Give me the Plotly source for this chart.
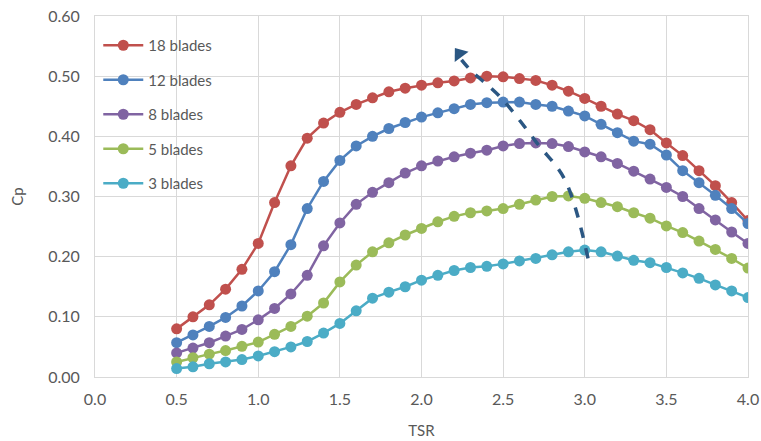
import plotly.graph_objects as go

tsr = [round(0.5 + 0.1 * i, 1) for i in range(36)]

cp_18 = [0.080, 0.100, 0.120, 0.146, 0.179, 0.222, 0.290, 0.351, 0.397, 0.422,
         0.440, 0.453, 0.464, 0.474, 0.480, 0.485, 0.489, 0.492, 0.497, 0.500,
         0.499, 0.496, 0.493, 0.485, 0.475, 0.463, 0.450, 0.437, 0.426, 0.411,
         0.389, 0.368, 0.343, 0.318, 0.290, 0.260]
cp_12 = [0.057, 0.070, 0.084, 0.099, 0.118, 0.143, 0.175, 0.220, 0.280, 0.325,
         0.360, 0.384, 0.400, 0.413, 0.423, 0.432, 0.439, 0.446, 0.453, 0.456,
         0.457, 0.457, 0.453, 0.450, 0.442, 0.434, 0.420, 0.406, 0.392, 0.387,
         0.369, 0.343, 0.323, 0.302, 0.280, 0.255]
cp_8 = [0.040, 0.048, 0.057, 0.068, 0.079, 0.095, 0.114, 0.138, 0.169, 0.218,
        0.256, 0.287, 0.307, 0.323, 0.339, 0.351, 0.359, 0.366, 0.372, 0.377,
        0.384, 0.388, 0.389, 0.388, 0.383, 0.374, 0.366, 0.355, 0.342, 0.329,
        0.315, 0.300, 0.280, 0.261, 0.241, 0.222]
cp_5 = [0.025, 0.032, 0.038, 0.044, 0.051, 0.058, 0.071, 0.084, 0.101, 0.123,
        0.158, 0.186, 0.208, 0.223, 0.236, 0.247, 0.258, 0.267, 0.273, 0.276,
        0.280, 0.287, 0.294, 0.300, 0.301, 0.297, 0.290, 0.283, 0.273, 0.264,
        0.251, 0.240, 0.226, 0.212, 0.197, 0.181]
cp_3 = [0.014, 0.017, 0.022, 0.025, 0.029, 0.035, 0.042, 0.050, 0.059, 0.073,
        0.089, 0.110, 0.131, 0.141, 0.150, 0.161, 0.169, 0.177, 0.182, 0.184,
        0.188, 0.193, 0.197, 0.203, 0.208, 0.211, 0.208, 0.201, 0.194, 0.190,
        0.182, 0.173, 0.164, 0.153, 0.143, 0.132]

series_names = ["18 blades", "12 blades", "8 blades", "5 blades", "3 blades"]
series_values = [cp_18, cp_12, cp_8, cp_5, cp_3]
series_colors = ["#C0504D", "#4F81BD", "#8064A2", "#9BBB59", "#4BACC6"]

# trend arrow path (TSR, Cp) and arrowhead position
arrow_x = [3.02, 2.88, 2.71, 2.48, 2.30, 2.245]
arrow_y = [0.197, 0.327, 0.388, 0.466, 0.510, 0.527]
head_x = [2.232]
head_y = [0.537]

x_ticks = [0.0, 0.5, 1.0, 1.5, 2.0, 2.5, 3.0, 3.5, 4.0]
y_ticks = [0.0, 0.1, 0.2, 0.3, 0.4, 0.5, 0.6]

FONT = "Lato"
GRID = "#D9D9D9"
TXT = "#595959"
ARROW = "#2B5783"

fig = go.Figure()
for i, (name, vals, col) in enumerate(zip(series_names, series_values, series_colors)):
    fig.add_trace(go.Scatter(
        x=tsr, y=vals, name=name, mode="lines+markers",
        line=dict(color=col, width=2.5),
        marker=dict(color=col, size=11),
        legendgroup="g%d" % i,
    ))

fig.add_trace(go.Scatter(
    x=arrow_x, y=arrow_y, mode="lines", showlegend=False, hoverinfo="skip",
    line=dict(color=ARROW, width=3.5, dash="dash", shape="spline"),
))
fig.add_trace(go.Scatter(
    x=head_x, y=head_y, mode="markers", showlegend=False, hoverinfo="skip",
    marker=dict(symbol="triangle-up", size=15, color=ARROW, angle=-37),
))

fig.update_layout(
    width=761, height=441,
    margin=dict(l=95, r=13, t=16, b=64),
    paper_bgcolor="white", plot_bgcolor="white",
    font=dict(family=FONT, size=15, color=TXT),
    showlegend=True,
    legend=dict(
        x=0.005, y=0.964, xanchor="left", yanchor="top",
        bgcolor="rgba(0,0,0,0)", font=dict(size=15, color=TXT),
        traceorder="grouped", tracegroupgap=12, itemwidth=40,
    ),
    xaxis=dict(
        range=[0, 4], tickvals=x_ticks, tickformat=".1f", automargin=False,
        tickfont=dict(size=16, color=TXT), ticklabelstandoff=8,
        showgrid=True, gridcolor=GRID, gridwidth=1,
        showline=True, linecolor=GRID, linewidth=1, mirror=True,
        zeroline=False, ticks="",
        title=dict(text="TSR", font=dict(size=15, color=TXT), standoff=18),
    ),
    yaxis=dict(
        range=[0, 0.6], tickvals=y_ticks, tickformat=".2f", automargin=False,
        tickfont=dict(size=16, color=TXT), ticklabelstandoff=11,
        showgrid=True, gridcolor=GRID, gridwidth=1,
        showline=True, linecolor=GRID, linewidth=1, mirror=True,
        zeroline=False, ticks="",
        title=dict(text="Cp", font=dict(size=15, color=TXT), standoff=20),
    ),
)

fig.write_html("out.html")
